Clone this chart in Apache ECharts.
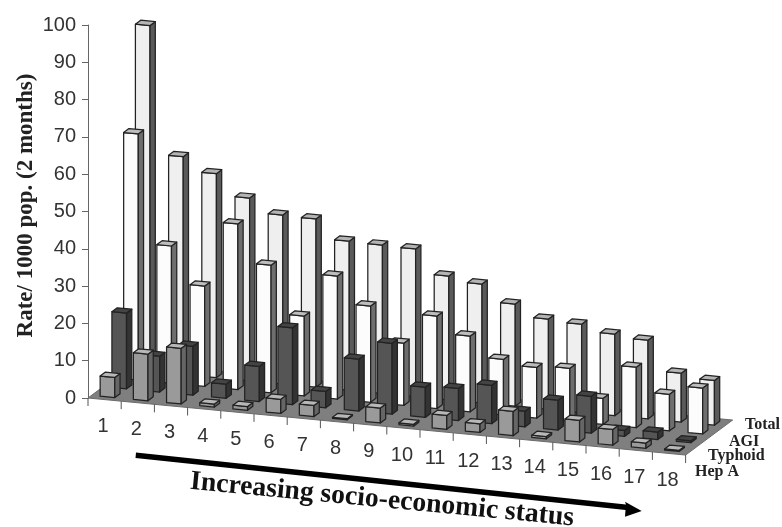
<!DOCTYPE html>
<html><head><meta charset="utf-8">
<style>html,body{margin:0;padding:0;background:#fff}#c{width:782px;height:527px}</style>
<script src="https://cdn.jsdelivr.net/npm/echarts@6/dist/echarts.min.js"></script>
</head><body><div id="c"></div>
<script>
const categories = ['1','2','3','4','5','6','7','8','9','10','11','12','13','14','15','16','17','18'];
const yTicks = [0,10,20,30,40,50,60,70,80,90,100];
const seriesNames = ['Hep A','Typhoid','AGI','Total'];
const hepA = [5.4,12.5,14.9,0.8,1,3.8,3,0.3,4,0.5,3.7,2.3,6.5,0.6,5.8,4.2,1.4,0.3];
const typhoid = [20.3,9.6,13.1,3.8,9.4,20.6,4.4,13.9,19,8.1,8.6,10.3,4.2,8,9.9,1.6,2,0.5];
const agi = [66,36.8,26.9,44.4,34.2,21.4,33,25.8,16.7,24.8,20.3,14.9,13.6,14.2,7,16.2,9.8,12.3];
const total = [92.7,58.4,54.7,49,45.3,45.1,40,39.8,39.6,33.2,31.9,27.4,24.2,23.7,21.9,21.1,13.1,12];

// oblique projection
const SLOPE_Y = 3.17, ROW_DX = 11.75, ROW_DY = 8.75;
const BAR_U = 0.26, BAR_W = 0.44, BAR_D = 0.3, BAR_DEPTH = 0.45;
const rows = [
  {name:'Total',  r:3, vals:total,  face:'#efefef', side:'#5a5a5a', top:'#b4b4b4'},
  {name:'AGI',    r:2, vals:agi,    face:'#fcfcfc', side:'#6e6e6e', top:'#bdbdbd'},
  {name:'Typhoid',r:1, vals:typhoid,face:'#555555', side:'#333333', top:'#444444'},
  {name:'Hep A',  r:0, vals:hepA,   face:'#9a9a9a', side:'#666666', top:'#b8b8b8'}
];
const EDGE = {stroke:'#222', lineWidth:1.25, lineJoin:'round'};
function projector(api){
  return (cx, rr, val) => {
    const c = api.coord([cx, val]);
    return [c[0] + rr*ROW_DX, c[1] + cx*SLOPE_Y - rr*ROW_DY];
  };
}
function poly(points, fill){
  return {type:'polygon', shape:{points}, style:Object.assign({fill}, EDGE)};
}
function barRenderer(row){
  return function(params, api){
    const i = api.value(0), v = api.value(1), p = projector(api);
    const x0 = i+BAR_U, x1 = x0+BAR_W, d0 = row.r+BAR_D, d1 = d0+BAR_DEPTH;
    return {type:'group', children:[
      poly([p(x0,d0,0),p(x1,d0,0),p(x1,d0,v),p(x0,d0,v)], row.face),
      poly([p(x1,d0,0),p(x1,d1,0),p(x1,d1,v),p(x1,d0,v)], row.side),
      poly([p(x0,d0,v),p(x1,d0,v),p(x1,d1,v),p(x0,d1,v)], row.top)
    ]};
  };
}
const floorSeries = {
  type:'custom', name:'floor', silent:true, z:1, clip:false,
  data:[[0,0]], encode:{x:0,y:1},
  renderItem(params, api){
    const p = projector(api), n = categories.length, m = rows.length;
    return {type:'polygon', shape:{points:[p(0,0,0),p(n,0,0),p(n,m,0),p(0,m,0)]},
      style:{fill:'#7f7f7f', stroke:'#6a6a6a', lineWidth:1}};
  }
};
const tickSeries = {
  type:'custom', name:'ticks', silent:true, z:2, clip:false,
  data:categories.map((c,i)=>[i,0,c]).concat([[categories.length,0,'']]),
  encode:{x:0,y:1},
  renderItem(params, api){
    const p = projector(api), i = api.value(0), a = p(i,0,0), m = p(i+0.5,0,0);
    const kids = [{type:'line', shape:{x1:a[0],y1:a[1],x2:a[0],y2:a[1]+8}, style:{stroke:'#555',lineWidth:1}}];
    const label = categories[i];
    if(label) kids.push({type:'text', style:{text:label, x:m[0]-1.5, y:m[1]+27, align:'center', verticalAlign:'middle',
      font:'20px "Liberation Sans"', fill:'#333'}});
    return {type:'group', children:kids};
  }
};
const barSeries = rows.map((row,k)=>({
  type:'custom', name:row.name, silent:true, z:3+k, clip:false,
  data:row.vals.map((v,i)=>[i,v]), encode:{x:0,y:1},
  renderItem:barRenderer(row)
}));
const labelSpots = {'Total':[745,425],'AGI':[729,442],'Typhoid':[708,456],'Hep A':[695,472]};
const serif = '"Liberation Serif"';
const chart = echarts.init(document.getElementById('c'), null, {renderer:'canvas'});
chart.setOption({
  animation:false, backgroundColor:'#fff',
  grid:{left:88, right:96.4, top:25, bottom:129},
  xAxis:{type:'value', min:0, max:categories.length, show:false},
  yAxis:{type:'value', min:yTicks[0], max:yTicks[yTicks.length-1], interval:10,
    name:'Rate/ 1000 pop. (2 months)', nameLocation:'middle', nameGap:50, nameRotate:90, nameMoveOverlap:false,
    nameTextStyle:{fontFamily:'Liberation Serif', fontWeight:'bold', fontSize:23, color:'#222', padding:[0,0,0,12]},
    axisLine:{show:true, lineStyle:{color:'#666', width:1}},
    axisTick:{show:true, length:6, lineStyle:{color:'#666'}},
    axisLabel:{fontFamily:'Liberation Sans', fontSize:20, color:'#333', margin:12},
    splitLine:{show:false}},
  series:[floorSeries, tickSeries].concat(barSeries),
  graphic:[
    ...seriesNames.map(n=>({type:'text', left:labelSpots[n][0], top:labelSpots[n][1]-8,
      style:{text:n, font:'bold 16px '+serif, fill:'#222'}})),
    {type:'polygon', shape:{points:[[136,452.5],[626,504.5],[625,501.7],[641.7,511],[625,516.7],[625.5,510],[135.5,458]]},
      style:{fill:'#000'}},
    {type:'text', x:382, y:500, rotation:-0.095,
      style:{text:'Increasing socio-economic status', font:'bold 27.7px '+serif, fill:'#111', align:'center', verticalAlign:'middle'}}
  ]
});
</script></body></html>
